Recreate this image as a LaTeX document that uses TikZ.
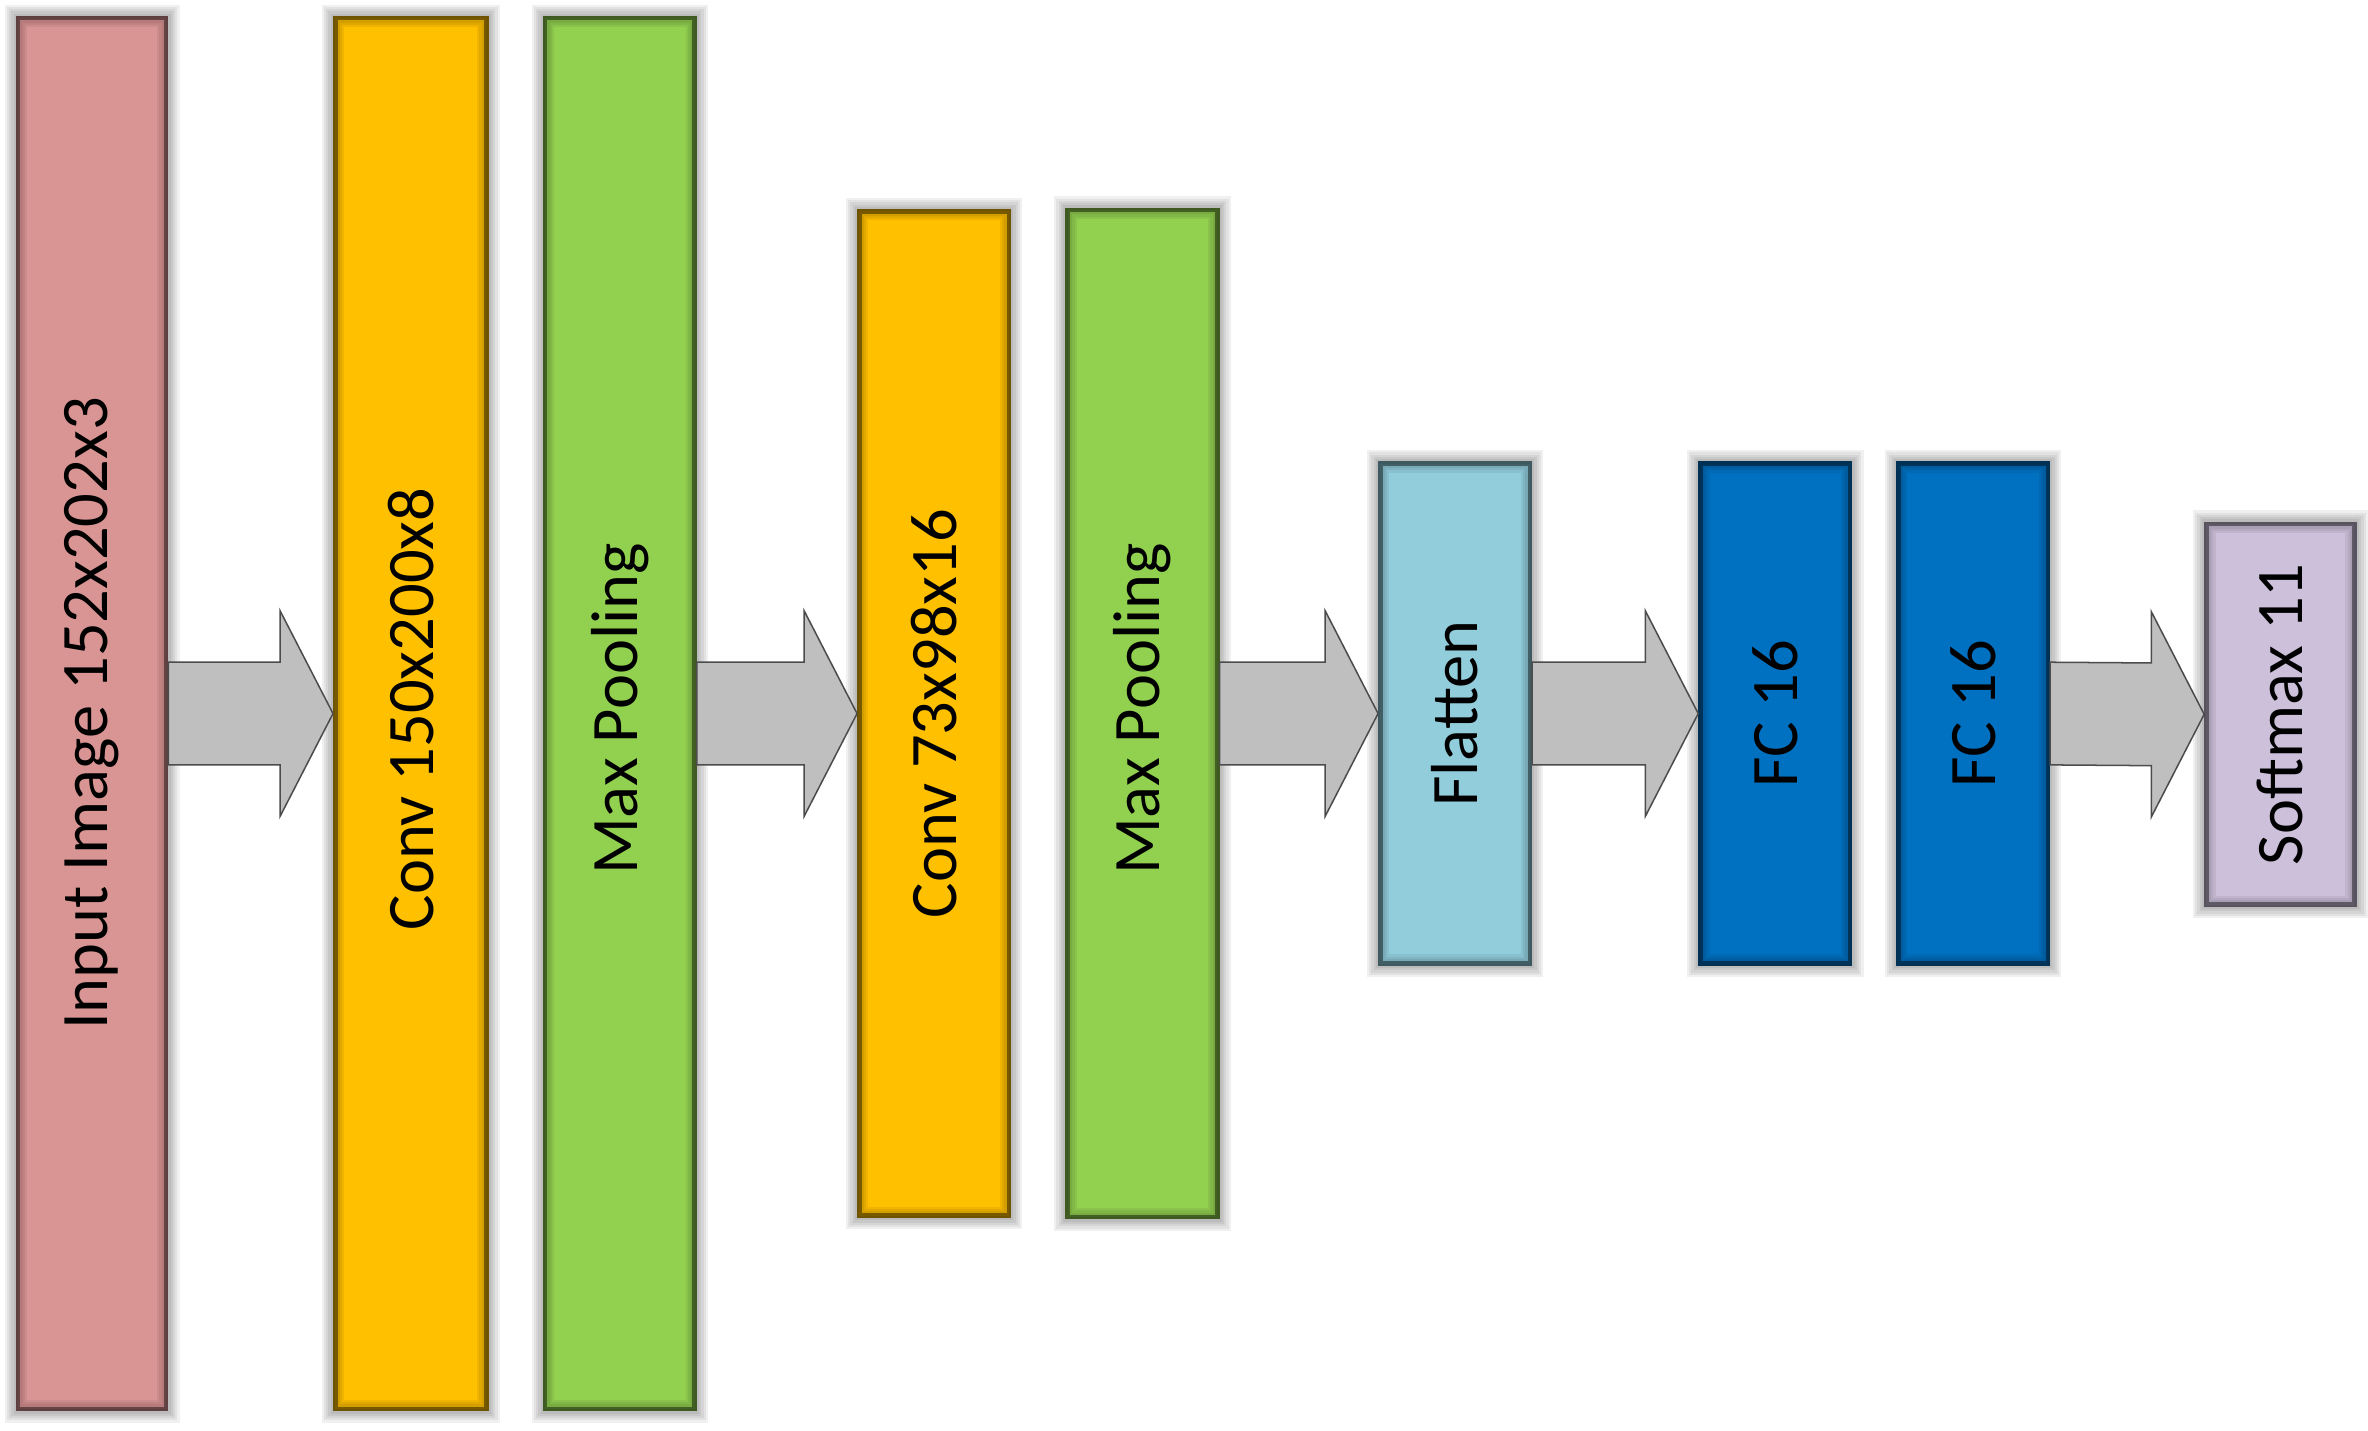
\documentclass[tikz,border=0pt]{standalone}
\usepackage{fontspec}
\setmainfont{Carlito}
\usetikzlibrary{calc}
\definecolor{cin}{HTML}{D99594}
\definecolor{cconv}{HTML}{FFC000}
\definecolor{cpool}{HTML}{92D050}
\definecolor{cflat}{HTML}{92CDDC}
\definecolor{cfc}{HTML}{0070C0}
\definecolor{csoft}{HTML}{CCC0DA}
\definecolor{carr}{HTML}{BFBFBF}
\tikzset{
  box/.style={rectangle, inner sep=0pt, fill=#1, draw=#1!60!black, line width=3pt},
  lab/.style={rotate=90, font=\fontsize{44}{44}\selectfont, text=black},
  arr/.style={fill=carr, draw=black!70, line width=1pt, line join=miter}
}
\newcommand{\mybox}[6]{% name, color, x1, y1(top), x2, y2(bottom)
  \node[box=#2, minimum width={(#5-#3)*1pt}, minimum height={(#6-#4)*1pt}] (#1) at ({(#3+#5)/2}, {947-(#4+#6)/2}) {};
  \foreach \i in {1,...,5}{
    \draw[black, opacity=0.06, line width={\i*3pt}] (#1.south west) rectangle (#1.north east);}
}
\newcommand{\blockarrow}[2]{%
  \draw[arr] ($(#1.east)+(0,34)$) -- ($(#2.west)+(-35,34)$) -- ($(#2.west)+(-35,68)$) -- (#2.west)
   -- ($(#2.west)+(-35,-68)$) -- ($(#2.west)+(-35,-34)$) -- ($(#1.east)+(0,-34)$) -- cycle;}
\begin{document}
\begin{tikzpicture}[x=1pt,y=1pt]
\useasboundingbox (0,0) rectangle (1568,947);
\begin{scope}
\clip (0,0) rectangle (1568,947);
\mybox{in}{cin}{12}{12}{110}{933}
\mybox{c1}{cconv}{222}{12}{322}{933}
\mybox{p1}{cpool}{361}{12}{460}{933}
\mybox{c2}{cconv}{569}{140}{668}{805}
\mybox{p2}{cpool}{707}{139}{806}{806}
\mybox{fl}{cflat}{914}{307}{1013}{638}
\mybox{f1}{cfc}{1126}{307}{1225}{638}
\mybox{f2}{cfc}{1257}{307}{1356}{638}
\mybox{sm}{csoft}{1461}{347}{1559}{599}
\end{scope}
\node[lab] (tin) at ($(in)+(0,0)$) {Input Image 152x202x3};
\node[lab] (tc1) at ($(c1)+(0,3)$) {Conv 150x200x8};
\node[lab] (tp1) at ($(p1)+(0,3)$) {Max Pooling};
\node[lab] (tc2) at ($(c2)+(0,0)$) {Conv 73x98x16};
\node[lab] (tp2) at ($(p2)+(0,3)$) {Max Pooling};
\node[lab] (tfl) at (fl) {Flatten};
\node[lab] (tf1) at (f1) {FC 16};
\node[lab] (tf2) at (f2) {FC 16};
\node[lab] (tsm) at (sm) {Softmax 11};
\blockarrow{in}{c1}
\blockarrow{p1}{c2}
\blockarrow{p2}{fl}
\blockarrow{fl}{f1}
\blockarrow{f2}{sm}
\end{tikzpicture}
\end{document}
